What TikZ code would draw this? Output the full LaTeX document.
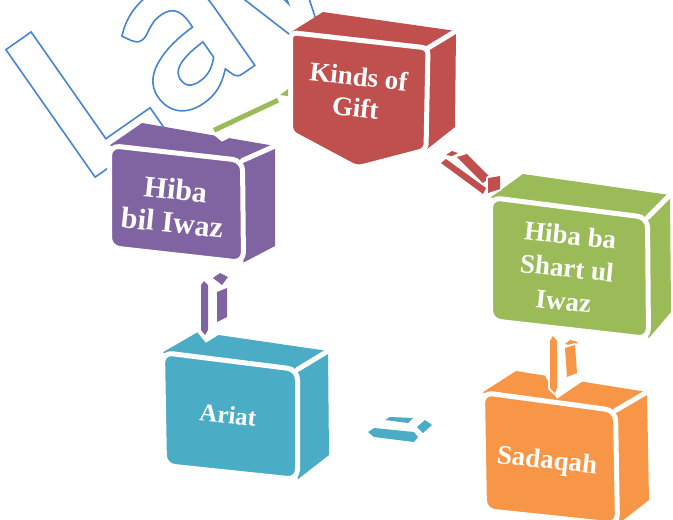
\documentclass[tikz,border=0pt]{standalone}
\usepackage{fontspec}
\newfontfamily\labelfont{Liberation Serif}
\newfontfamily\markfont{Carlito}

\definecolor{giftred}{RGB}{192,80,77}
\definecolor{giftpurple}{RGB}{128,100,162}
\definecolor{giftgreen}{RGB}{155,187,89}
\definecolor{giftteal}{RGB}{75,172,198}
\definecolor{giftorange}{RGB}{247,150,70}
\definecolor{markblue}{RGB}{72,132,212}

\tikzset{
  face/.style={fill=#1, draw=white, line width=5pt, line join=round},
  boxtext/.style={text=white, align=center, inner sep=0pt, rotate=-6},
  linkpart/.style={fill=#1, preaction={draw=white, line width=4pt, line join=round}},
  bite/.style={fill=white, draw=white, line width=1pt, line join=round},
}

% one box: colour, front corners (tl,tr,br,bl), back corners (tl,tr,br)
\newcommand\drawgiftbox[8]{%
  \fill[#1] #2 -- #6 -- #7 -- #3 -- cycle;
  \fill[#1] #3 -- #7 -- #8 -- #4 -- cycle;
  \draw[white, line width=5pt, line cap=round] #3 -- #7;
  \draw[face=#1, rounded corners=10pt] #2 -- #3 -- #4 -- #5 -- cycle;
}

% stroked (outline only) text
\newcommand\outlinetext[1]{%
  \special{pdf:literal direct 1 Tr 1.6 w}#1\special{pdf:literal direct 0 Tr}}

\begin{document}
\begin{tikzpicture}[x=1pt,y=-1pt]
\useasboundingbox (0,0) rectangle (673,520);
\clip (0,0) rectangle (673,520);

% outlined watermark
\node[anchor=base west, inner sep=0pt, rotate=35, text=markblue] (mark) at (84.6,184.5)
  {\markfont\bfseries\fontsize{240}{240}\selectfont\outlinetext{Law}};

% Kinds of Gift (pentagon front)
\fill[giftred] (290.5,32.5) -- (323,12) -- (456,31) -- (428,48) -- cycle;
\fill[giftred] (428,48) -- (456,31) -- (455,127) -- (426,150) -- cycle;
\draw[white, line width=5pt, line cap=round] (428,48) -- (456,31);
\draw[face=giftred, rounded corners=6pt] (290.5,32.5) -- (428,48) -- (426,150) -- (357,168) -- (290.5,132.5) -- cycle;

% the other four boxes
\drawgiftbox{giftpurple}{(109.5,145.5)}{(242.5,160.5)}{(243.5,262.5)}{(109.5,247.5)}{(142,123)}{(275,146)}{(275,246)}
\drawgiftbox{giftgreen}{(490.5,197.5)}{(647.5,217.5)}{(648.5,338.5)}{(490.5,320.5)}{(523,174)}{(670,195)}{(671,312)}
\drawgiftbox{giftteal}{(162.5,352.5)}{(297.5,369.5)}{(297.5,479.5)}{(164.5,465.5)}{(198,332)}{(328,351)}{(329,455)}
\drawgiftbox{giftorange}{(482.5,392.5)}{(615.5,410.5)}{(617.5,524.5)}{(484.5,510.5)}{(516,371)}{(647,392)}{(649,500)}

% gaps cut into the top faces where the connectors meet them
\filldraw[bite] (205,127) -- (222,141) -- (234,135) -- (232,126) -- cycle;
\filldraw[bite] (197,331) -- (206,342) -- (219,334) -- cycle;
\filldraw[bite] (546,376) -- (557,398) -- (582,381) -- (575,378) -- cycle;

% connector: Hiba bil Iwaz -- Kinds of Gift
\fill[linkpart=giftgreen] (213,128) -- (277,98) -- (279,102.5) -- (215,132.5) -- cycle;
\fill[linkpart=giftgreen] (280,95) -- (288,89) -- (288,96) -- cycle;

% connector: Kinds of Gift -- Hiba ba Shart ul Iwaz
\fill[linkpart=giftred] (441,163) -- (446,159) -- (486,188) -- (483,194) -- (479,191) -- cycle;
\fill[linkpart=giftred] (446,155) -- (452,151) -- (458,153) -- (452,156) -- cycle;
\fill[linkpart=giftred] (457,157) -- (467,154) -- (490,177) -- (483,183) -- cycle;
\fill[linkpart=giftred] (488,178) -- (500,176) -- (500,189) -- (488,193) -- cycle;

% connector: Hiba bil Iwaz -- Ariat
\fill[linkpart=giftpurple] (204,281) -- (208,285) -- (208,330) -- (205,335) -- (201,330) -- (201,285) -- cycle;
\fill[linkpart=giftpurple] (213,278) -- (220,273) -- (228,277) -- (222,285) -- cycle;
\fill[linkpart=giftpurple] (217,292) -- (227,288) -- (227,317) -- (217,322) -- cycle;

% connector: Ariat -- Sadaqah
\fill[linkpart=giftteal] (368,432) -- (374,428) -- (414,432) -- (418,437) -- (414,442) -- (374,437) -- cycle;
\fill[linkpart=giftteal] (385,420) -- (390,417) -- (413,418) -- (408,423) -- cycle;
\fill[linkpart=giftteal] (417,427) -- (425,420) -- (432,425) -- (423,433) -- cycle;

% connector: Hiba ba Shart ul Iwaz -- Sadaqah
\fill[linkpart=giftorange] (553,336) -- (557,341) -- (557,388) -- (555,393) -- (550,388) -- (550,341) -- cycle;
\fill[linkpart=giftorange] (565,344) -- (570,340) -- (578,342) -- (574,346) -- cycle;
\fill[linkpart=giftorange] (565,348) -- (575,345) -- (577,373) -- (567,377) -- cycle;

% labels
\node[boxtext, font={\labelfont\bfseries\fontsize{27}{31}\selectfont}] (kinds) at (357,92) {Kinds of\\Gift};
\node[boxtext, font={\labelfont\bfseries\fontsize{30}{33}\selectfont}] (bil) at (174,206) {Hiba\\bil Iwaz};
\node[boxtext, font={\labelfont\bfseries\fontsize{27}{33}\selectfont}] (shart) at (567,268) {Hiba ba\\Shart ul\\Iwaz};
\node[boxtext, font={\labelfont\bfseries\fontsize{25}{30}\selectfont}] (ariat) at (228,415) {Ariat};
\node[boxtext, font={\labelfont\bfseries\fontsize{27}{30}\selectfont}] (sadaqah) at (547,462) {Sadaqah};
\end{tikzpicture}
\end{document}
